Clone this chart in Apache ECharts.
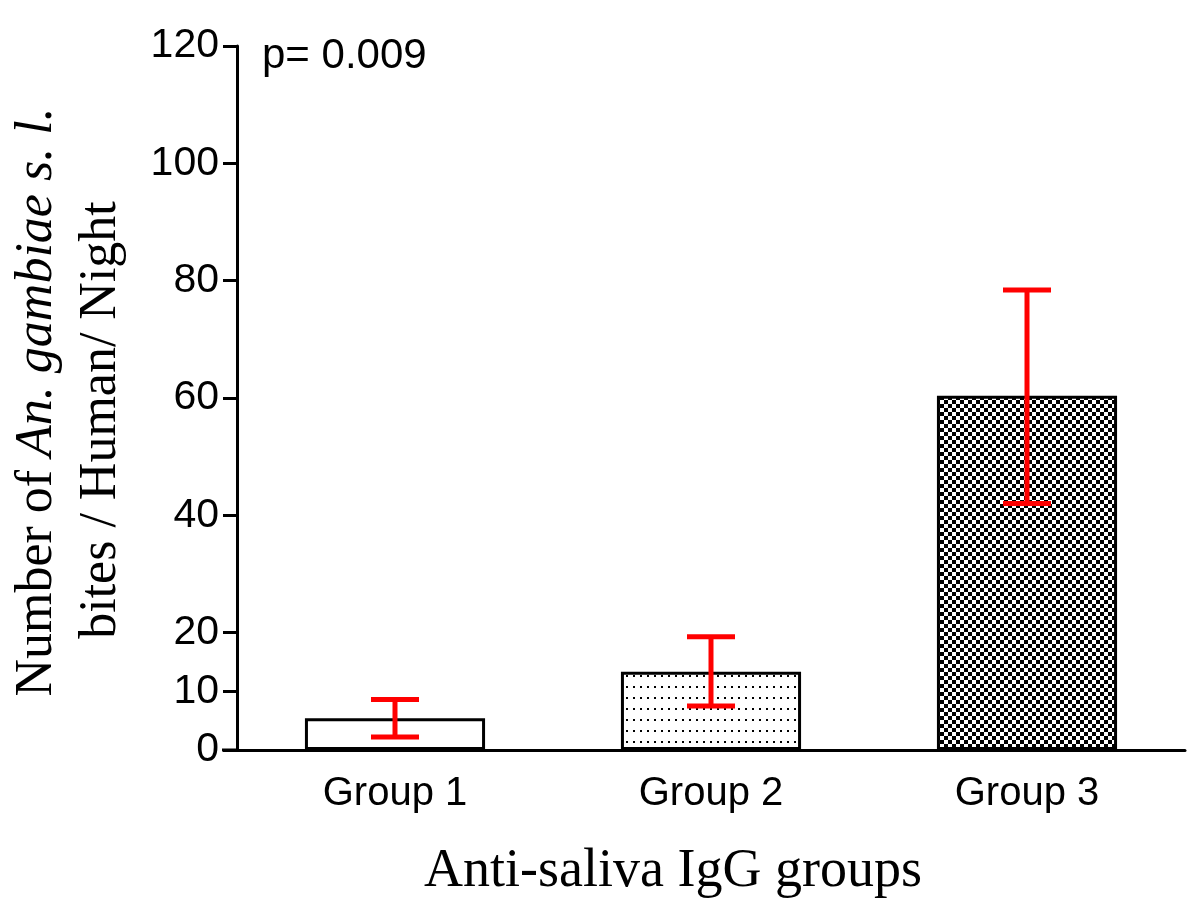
<!DOCTYPE html>
<html><head><meta charset="utf-8">
<script src="https://cdn.jsdelivr.net/npm/echarts@6/dist/echarts.min.js"></script>
<style>html,body{margin:0;padding:0;background:#fff}#c{width:1200px;height:911px}</style>
</head><body><div id="c"></div>
<script>
var categories = ['Group 1', 'Group 2', 'Group 3'];
var means = [5.4, 13.35, 60.4];
var errLow = [2.2, 7.5, 42.0];
var errHigh = [8.6, 19.3, 78.4];
var yTicks = [0, 10, 20, 40, 60, 80, 100, 120];
var pValue = 'p= 0.009';

function makeTile(w, h, draw) {
  var c = document.createElement('canvas'); c.width = w; c.height = h;
  var ctx = c.getContext('2d'); ctx.fillStyle = '#fff'; ctx.fillRect(0, 0, w, h);
  ctx.fillStyle = '#000'; draw(ctx); return c;
}
var dots = makeTile(7, 11, function (ctx) { ctx.fillRect(3, 4, 2, 2); });
var checker = makeTile(8, 8, function (ctx) { ctx.fillRect(0, 0, 4, 4); ctx.fillRect(4, 4, 4, 4); });
var fills = ['#ffffff', { image: dots, repeat: 'repeat' }, { image: checker, repeat: 'repeat' }];

var chart = echarts.init(document.getElementById('c'), null, { renderer: 'canvas' });
var sans = 'Liberation Sans, Arial, sans-serif';
var serif = 'Liberation Serif, Times New Roman, serif';
chart.setOption({
  animation: false,
  grid: { left: 237, right: 15, top: 46, bottom: 161 },
  xAxis: {
    type: 'category', data: categories,
    axisLine: { lineStyle: { color: '#000', width: 3 } },
    axisTick: { alignWithLabel: true, length: 14, lineStyle: { color: '#000', width: 3 } },
    axisLabel: { color: '#000', fontSize: 40, fontFamily: sans, margin: 24 }
  },
  yAxis: {
    type: 'value', min: 0, max: 120,
    splitLine: { show: false },
    axisLine: { show: true, lineStyle: { color: '#000', width: 3 } },
    axisTick: { show: true, length: 14, customValues: yTicks, lineStyle: { color: '#000', width: 3 } },
    axisLabel: { color: '#000', fontSize: 41, fontFamily: sans, margin: 18, customValues: yTicks }
  },
  graphic: [
    { type: 'text', left: 262, top: 35, style: { text: pValue, fontSize: 42, fontFamily: sans, fill: '#000' } },
    { type: 'line', shape: { x1: 222, y1: 750, x2: 238, y2: 750 }, style: { stroke: '#000', lineWidth: 3 } },
    { type: 'text', x: 673, y: 872, style: { text: 'Anti-saliva IgG groups', fontSize: 54, fontFamily: serif, fill: '#000', align: 'center', verticalAlign: 'middle' } },
    { type: 'text', x: 37, y: 402, rotation: Math.PI / 2,
      style: { text: '{n|Number of }{i|An. gambiae s. l.}', align: 'center', verticalAlign: 'middle', fill: '#000',
        rich: { n: { fontSize: 52, fontFamily: serif, fill: '#000' }, i: { fontSize: 52, fontFamily: serif, fontStyle: 'italic', fill: '#000' } } } },
    { type: 'text', x: 101, y: 420, rotation: Math.PI / 2,
      style: { text: 'bites / Human/ Night', fontSize: 52, fontFamily: serif, fill: '#000', align: 'center', verticalAlign: 'middle' } }
  ],
  series: [
    {
      type: 'bar', barWidth: '57%',
      data: means.map(function (v, i) { return { value: v, itemStyle: { color: fills[i] } }; }),
      itemStyle: { borderColor: '#000', borderWidth: 3 }
    },
    {
      type: 'custom', z: 10,
      data: categories.map(function (c, i) { return [i, errLow[i], errHigh[i]]; }),
      renderItem: function (params, api) {
        var lo = api.coord([api.value(0), api.value(1)]);
        var hi = api.coord([api.value(0), api.value(2)]);
        var hw = 24;
        var st = { stroke: '#ff0000', lineWidth: 5 };
        return { type: 'group', children: [
          { type: 'line', shape: { x1: lo[0], y1: lo[1], x2: hi[0], y2: hi[1] }, style: st },
          { type: 'line', shape: { x1: lo[0] - hw, y1: lo[1], x2: lo[0] + hw, y2: lo[1] }, style: st },
          { type: 'line', shape: { x1: hi[0] - hw, y1: hi[1], x2: hi[0] + hw, y2: hi[1] }, style: st }
        ] };
      }
    }
  ]
});
</script></body></html>
